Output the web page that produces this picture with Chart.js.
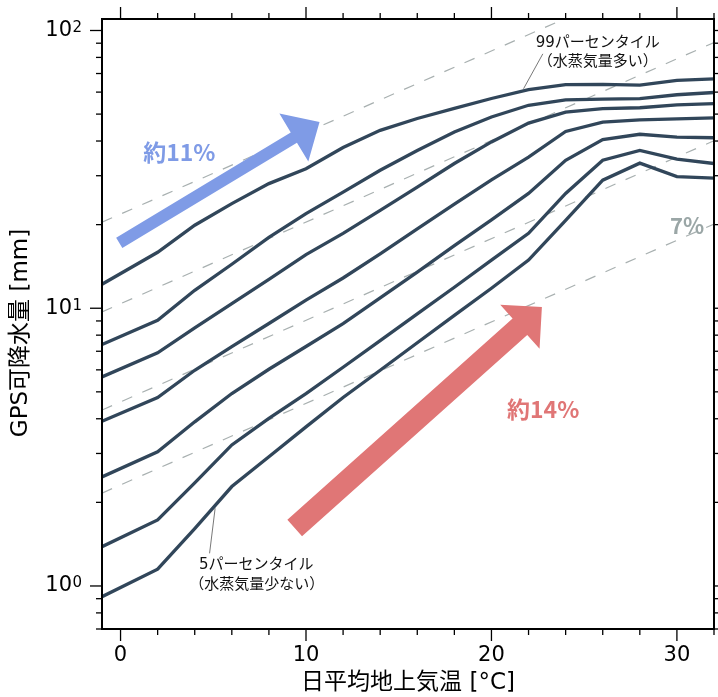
<!DOCTYPE html>
<html>
<head>
<meta charset="utf-8">
<script src="https://cdn.jsdelivr.net/npm/chart.js@4.4.1/dist/chart.umd.min.js"></script>
<style>
html, body { margin: 0; padding: 0; background: #fff; }
</style>
</head>
<body>
<canvas id="chart" width="718" height="697"></canvas>
<script>
'use strict';

/* global Chart */

// daily mean surface air temperature bins [°C]
const temps = [-1, 2, 4, 6, 8, 10, 12, 14, 16, 18, 20, 22, 24, 26, 28, 30, 32];
// GPS precipitable water percentiles [mm]
const pct99 = [12.2, 15.9, 19.9, 23.8, 28.1, 31.8, 37.9, 43.7, 48.2, 52.4, 56.9, 61.2, 63.8, 64.0, 63.6, 66.1, 67.0];
const pct90 = [7.4, 9.05, 11.6, 14.4, 18.0, 21.9, 26.2, 31.4, 37.0, 43.1, 48.8, 53.8, 56.3, 56.6, 56.8, 58.7, 59.8];
const pct75 = [5.66, 6.91, 8.5, 10.4, 12.7, 15.6, 18.6, 22.5, 27.3, 33.2, 39.7, 46.4, 50.8, 52.3, 52.7, 54.0, 54.5];
const pct50 = [3.92, 4.77, 5.98, 7.28, 8.81, 10.7, 12.85, 15.7, 19.3, 23.7, 29.0, 35.0, 43.3, 46.8, 47.7, 48.1, 48.5];
const pct25 = [2.47, 3.04, 3.9, 4.93, 6.03, 7.28, 8.8, 10.9, 13.5, 16.8, 20.8, 25.9, 34.1, 40.5, 42.3, 41.3, 41.1];
const pct10 = [1.385, 1.73, 2.35, 3.22, 4.01, 4.93, 6.13, 7.65, 9.55, 11.9, 14.9, 18.6, 25.9, 34.1, 37.0, 34.4, 33.2];
const pct5 = [0.915, 1.15, 1.61, 2.28, 2.92, 3.74, 4.77, 5.98, 7.51, 9.43, 11.8, 14.9, 20.7, 28.9, 33.3, 29.8, 29.4];

// 7%/°C guide lines (end points)
const refX = [-1, 32];
const refA = [20.4, 190];
const refB = [9.7, 90.5];
const refC = [4.3, 40.1];
const refD = [2.16, 20.1];

const xTickLabels = [0, 10, 20, 30];
const yTickValues = [1, 10, 100];
const yTickExponents = ['0', '1', '2'];
const yTitle = 'GPS可降水量 [mm]';

const LINE = '#31465a';
const DASH = '#a8b0b0';
const BLUE = '#7f9be6';
const RED = '#e07676';
const GREY = '#9aa6a6';
const JP = '"DejaVu Sans", "Noto Sans CJK JP", sans-serif';

let pts = (xs, ys) => xs.map((v, i) => ({ x: v, y: ys[i] }));

let series = [pct99, pct90, pct75, pct50, pct25, pct10, pct5];
let seriesNames = ['99', '90', '75', '50', '25', '10', '5'];
let refs = [refA, refB, refC, refD];

let datasets = series.map((s, i) => ({
    label: seriesNames[i] + 'パーセンタイル',
    data: pts(temps, s),
    borderColor: LINE,
    borderWidth: 3.3,
    pointRadius: 0,
    tension: 0,
    order: 1
}));
refs.forEach((r, i) => datasets.push({
    label: 'ref' + i,
    data: pts(refX, r),
    borderColor: DASH,
    borderWidth: 1.2,
    borderDash: [11, 11],
    pointRadius: 0,
    order: 2
}));

// annotations, in data coordinates
const arrows = [
    { from: [-0.07, 17.2], to: [10.73, 46.8], w: 12, hw: 56, hl: 30, color: BLUE },
    { from: [9.39, 1.617], to: [22.72, 10.1], w: 22, hw: 59, hl: 29.5, color: RED }
];
const notes = [
    { at: [3.17, 36.3], text: '約11%', font: 'bold 23px "Noto Sans CJK JP"', color: BLUE },
    { at: [22.79, 4.33], text: '約14%', font: 'bold 23px "Noto Sans CJK JP"', color: RED },
    { at: [30.55, 19.9], text: '7%', font: 'bold 22px "Noto Sans CJK JP"', color: GREY },
    { at: [25.73, 90.2], text: '99パーセンタイル', font: '15px ' + JP, color: '#111' },
    { at: [25.73, 77.0], text: '（水蒸気量多い）', font: '15px ' + JP, color: '#111' },
    { at: [7.32, 1.185], text: '5パーセンタイル', font: '15px ' + JP, color: '#111' },
    { at: [7.35, 1.004], text: '（水蒸気量少ない）', font: '15px ' + JP, color: '#111' }
];
const leaders = [
    [[22.77, 82.4], [21.73, 61.7]],
    [[4.8, 1.311], [5.1, 1.904]]
];

function drawArrow(ctx, x0, y0, x1, y1, w, hw, hl) {
    let dx = x1 - x0, dy = y1 - y0, L = Math.hypot(dx, dy);
    let ux = dx / L, uy = dy / L, nx = -uy, ny = ux;
    let bx = x1 - ux * hl, by = y1 - uy * hl;
    ctx.beginPath();
    ctx.moveTo(x0 + nx * w / 2, y0 + ny * w / 2);
    ctx.lineTo(bx + nx * w / 2, by + ny * w / 2);
    ctx.lineTo(bx + nx * hw / 2, by + ny * hw / 2);
    ctx.lineTo(x1, y1);
    ctx.lineTo(bx - nx * hw / 2, by - ny * hw / 2);
    ctx.lineTo(bx - nx * w / 2, by - ny * w / 2);
    ctx.lineTo(x0 - nx * w / 2, y0 - ny * w / 2);
    ctx.closePath();
    ctx.fill();
}

const annotate = {
    id: 'annotate',
    afterDatasetsDraw(chart) {
        const { ctx, scales: { x, y } } = chart;
        let px = (p) => [x.getPixelForValue(p[0]), y.getPixelForValue(p[1])];
        ctx.save();
        arrows.forEach((a) => {
            let [x0, y0] = px(a.from), [x1, y1] = px(a.to);
            ctx.fillStyle = a.color;
            drawArrow(ctx, x0, y0, x1, y1, a.w, a.hw, a.hl);
        });
        ctx.strokeStyle = '#555';
        ctx.lineWidth = 0.8;
        leaders.forEach((l) => {
            let [x0, y0] = px(l[0]), [x1, y1] = px(l[1]);
            ctx.beginPath();
            ctx.moveTo(x0, y0);
            ctx.lineTo(x1, y1);
            ctx.stroke();
        });
        ctx.textAlign = 'center';
        ctx.textBaseline = 'middle';
        notes.forEach((n) => {
            let [tx, ty] = px(n.at);
            ctx.font = n.font;
            ctx.fillStyle = n.color;
            ctx.fillText(n.text, tx, ty);
        });
        ctx.restore();
    }
};

// frame, tick marks on all four sides, 10^n labels and the y title
const frame = {
    id: 'frame',
    afterDraw(chart) {
        const { ctx, chartArea: a, scales: { x, y } } = chart;
        let seg = (x0, y0, x1, y1) => {
            ctx.beginPath();
            ctx.moveTo(x0, y0);
            ctx.lineTo(x1, y1);
            ctx.stroke();
        };
        ctx.save();
        ctx.strokeStyle = '#000';
        ctx.lineWidth = 1.3;
        for (let t = 0; t <= 32; t += 2) {
            let p = x.getPixelForValue(t);
            let len = t % 10 === 0 ? 12 : 6;
            seg(p, a.bottom, p, a.bottom + len);
            seg(p, a.top, p, a.top - len);
        }
        for (let dec = 0.1; dec <= 100; dec *= 10) {
            for (let k = 1; k < 10; ++k) {
                let v = Math.round(dec * k * 1000) / 1000;
                if (v < 0.7 || v > 110)
                    continue;
                let p = y.getPixelForValue(v);
                let len = k === 1 ? 12 : 6;
                seg(a.left, p, a.left - len, p);
                seg(a.right, p, a.right + len, p);
            }
        }
        ctx.lineWidth = 2;
        ctx.strokeRect(a.left, a.top, a.right - a.left, a.bottom - a.top);

        ctx.fillStyle = '#000';
        y.ticks.forEach((t) => {
            let i = yTickValues.indexOf(t.value);
            if (i < 0)
                return;
            let p = y.getPixelForValue(t.value);
            let xr = a.left - 30;
            ctx.font = '21px "DejaVu Sans"';
            ctx.textAlign = 'right';
            ctx.textBaseline = 'middle';
            ctx.fillText('10', xr, p);
            ctx.font = '15px "DejaVu Sans"';
            ctx.textAlign = 'left';
            ctx.textBaseline = 'alphabetic';
            ctx.fillText(yTickExponents[i], xr + 0.5, p + 1.5);
        });

        ctx.translate(21, (a.top + a.bottom) / 2 + 9);
        ctx.rotate(-Math.PI / 2);
        ctx.font = '23px ' + JP;
        ctx.textAlign = 'center';
        ctx.textBaseline = 'middle';
        ctx.fillText(yTitle, 0, 0);
        ctx.restore();
    }
};

new Chart(document.getElementById('chart'), {
    type: 'line',
    data: { datasets: datasets },
    plugins: [annotate, frame],
    options: {
        responsive: false,
        animation: false,
        layout: { padding: { top: 19, right: 4, left: 0, bottom: 0 } },
        plugins: { legend: { display: false }, tooltip: { enabled: false } },
        scales: {
            x: {
                type: 'linear',
                min: -1,
                max: 32,
                grid: { display: false },
                border: { display: false },
                afterBuildTicks: (s) => { s.ticks = xTickLabels.map((v) => ({ value: v })); },
                afterFit: (s) => { s.height = 68; s.paddingLeft = 0; s.paddingRight = 0; },
                ticks: {
                    autoSkip: false,
                    maxRotation: 0,
                    padding: 6,
                    color: '#000',
                    font: { family: 'DejaVu Sans', size: 21 }
                },
                title: {
                    display: true,
                    text: '日平均地上気温 [°C]',
                    color: '#000',
                    padding: { top: 0, bottom: 0 },
                    font: { family: JP, size: 23 }
                }
            },
            y: {
                type: 'logarithmic',
                min: 0.7,
                max: 110,
                grid: { display: false },
                border: { display: false },
                afterBuildTicks: (s) => { s.ticks = yTickValues.map((v) => ({ value: v })); },
                afterFit: (s) => { s.width = 102; s.paddingTop = 0; s.paddingBottom = 0; },
                ticks: {
                    autoSkip: false,
                    padding: 22,
                    color: 'rgba(0,0,0,0)',
                    font: { family: 'DejaVu Sans', size: 21 },
                    callback: () => ''
                },
                title: { display: false }
            }
        }
    }
});
</script>
</body>
</html>
